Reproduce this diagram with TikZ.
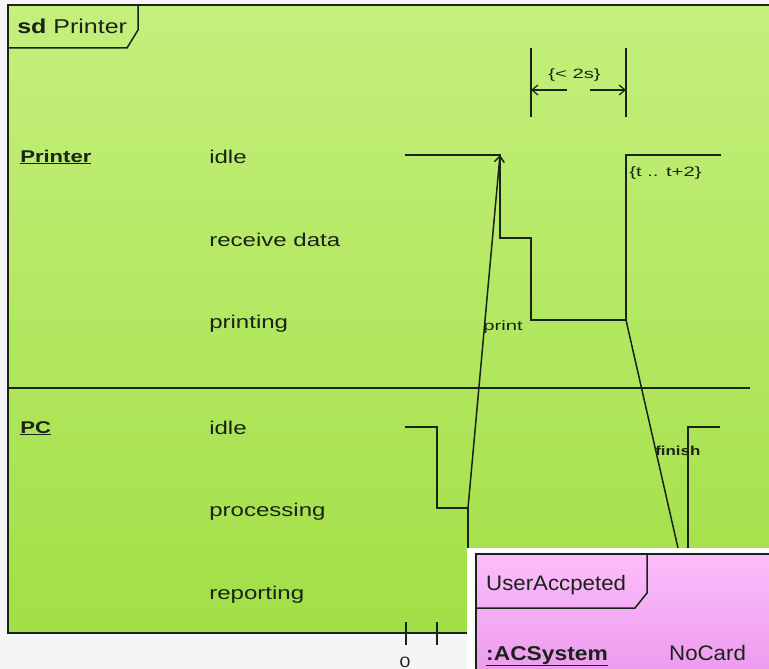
\documentclass[tikz,border=0pt]{standalone}
\usepackage{fontspec}
\setmainfont{Liberation Sans}
\usetikzlibrary{arrows.meta}
\definecolor{gtop}{RGB}{196,240,124}
\definecolor{gbot}{RGB}{162,223,70}
\definecolor{ptop}{RGB}{251,190,251}
\definecolor{pbot}{RGB}{238,156,238}
\definecolor{bgc}{RGB}{245,245,247}
\definecolor{ink}{RGB}{25,35,25}
\begin{document}
\begin{tikzpicture}[x=1pt,y=-1pt,
  ln/.style={draw=ink,line width=1.5pt},
  msg/.style={draw=ink,line width=1.5pt,-{Straight Barb[length=6pt,width=10pt]}},
  lbl/.style={font=\fontsize{18.5}{20}\selectfont,text=ink,anchor=base west,inner sep=0pt,xscale=1.3},
  life/.style={font=\bfseries\fontsize{17}{19}\selectfont,text=ink,anchor=base west,inner sep=0pt,xscale=1.3},
  small/.style={font=\fontsize{13.5}{15}\selectfont,text=ink,anchor=base west,inner sep=0pt,xscale=1.5},
  smallbold/.style={font=\bfseries\fontsize{13}{15}\selectfont,text=ink,anchor=base west,inner sep=0pt,xscale=1.3},
  pinktxt/.style={font=\fontsize{21}{23}\selectfont,text=ink,anchor=base west,inner sep=0pt,xscale=1.06},
  pinkbold/.style={font=\bfseries\fontsize{20}{22}\selectfont,text=ink,anchor=base west,inner sep=0pt,xscale=1.14}
]
\useasboundingbox (0,0) rectangle (769,669);
\fill[bgc] (0,0) rectangle (769,669);
% green frame
\fill[top color=gtop,bottom color=gbot] (8,5) rectangle (769,633);
\draw[ln] (769,5) -- (8,5) -- (8,633) -- (769,633);
% sd tab
\draw[ln] (138,5) -- (138,30) -- (127,48) -- (8,48);
\node[font=\fontsize{20}{22}\selectfont,text=ink,anchor=base west,inner sep=0pt,xscale=1.25] (sd) at (17,34) {\textbf{sd} Printer};
% divider
\draw[ln] (8,388) -- (750,388);
% lifeline labels
\node[life] (lp) at (20,162) {\underline{Printer}};
\node[life] (lc) at (20,433) {\underline{PC}};
% state labels
\node[lbl] (s1) at (209,163) {idle};
\node[lbl] (s2) at (209,246) {receive data};
\node[lbl] (s3) at (209,328) {printing};
\node[lbl] (s4) at (209,434) {idle};
\node[lbl] (s5) at (209,516) {processing};
\node[lbl] (s6) at (209,599) {reporting};
% printer timeline
\coordinate (pA) at (405,155); \coordinate (pB) at (500,155);
\coordinate (pC) at (500,238); \coordinate (pD) at (531,238);
\coordinate (pE) at (531,320); \coordinate (pF) at (626,320);
\coordinate (pG) at (626,155); \coordinate (pH) at (721,155);
\draw[ln] (pA) -- (pB) -- (pC) -- (pD) -- (pE) -- (pF) -- (pG) -- (pH);
% PC timeline
\coordinate (cA) at (405,427); \coordinate (cB) at (437,427);
\coordinate (cC) at (437,508); \coordinate (cD) at (468,508);
\coordinate (cE) at (468,592); \coordinate (cF) at (688,592);
\coordinate (cG) at (688,427); \coordinate (cH) at (720,427);
\draw[ln] (cA) -- (cB) -- (cC) -- (cD) -- (cE) -- (cF) -- (cG) -- (cH);
% messages
\draw[msg] (cD) -- (pB);
\draw[msg] (pF) -- (cF);
\node[small] (lprint) at (483,330) {print};
\node[smallbold] (lfin) at (655,455) {finish};
% duration constraint
\coordinate (d1t) at (531,48); \coordinate (d1b) at (531,117);
\coordinate (d2t) at (626,48); \coordinate (d2b) at (626,117);
\draw[ln] (d1t) -- (d1b);
\draw[ln] (d2t) -- (d2b);
\coordinate (m1) at (567,90); \coordinate (a1) at (531,90);
\coordinate (m2) at (590,90); \coordinate (a2) at (626,90);
\draw[msg,line width=1.2pt] (m1) -- (a1);
\draw[msg,line width=1.2pt] (m2) -- (a2);
\node[small] (dur) at (548,78) {\{< 2s\}};
\node[small] (tc) at (629,176) {\{t .. t+2\}};
% time ruler ticks
\coordinate (t0a) at (406,622); \coordinate (t0b) at (406,645);
\coordinate (t1a) at (437,622); \coordinate (t1b) at (437,645);
\draw[ln] (t0a) -- (t0b);
\draw[ln] (t1a) -- (t1b);
\node[font=\fontsize{15}{16}\selectfont,text=ink,inner sep=0pt,xscale=1.3] (z) at (405,662) {0};
% overlay pink box
\fill[white] (467,548) rectangle (769,669);
\fill[top color=ptop,bottom color=pbot] (476,554) rectangle (769,669);
\draw[ln] (476,669) -- (476,554) -- (769,554);
\draw[ln] (647,554) -- (647,593) -- (635,608) -- (476,608);
\node[pinktxt] (ua) at (486,590) {UserAccpeted};
\node[pinkbold] (acs) at (486,660) {\underline{:ACSystem}};
\node[pinktxt] (nc) at (669,660) {NoCard};
\end{tikzpicture}
\end{document}
